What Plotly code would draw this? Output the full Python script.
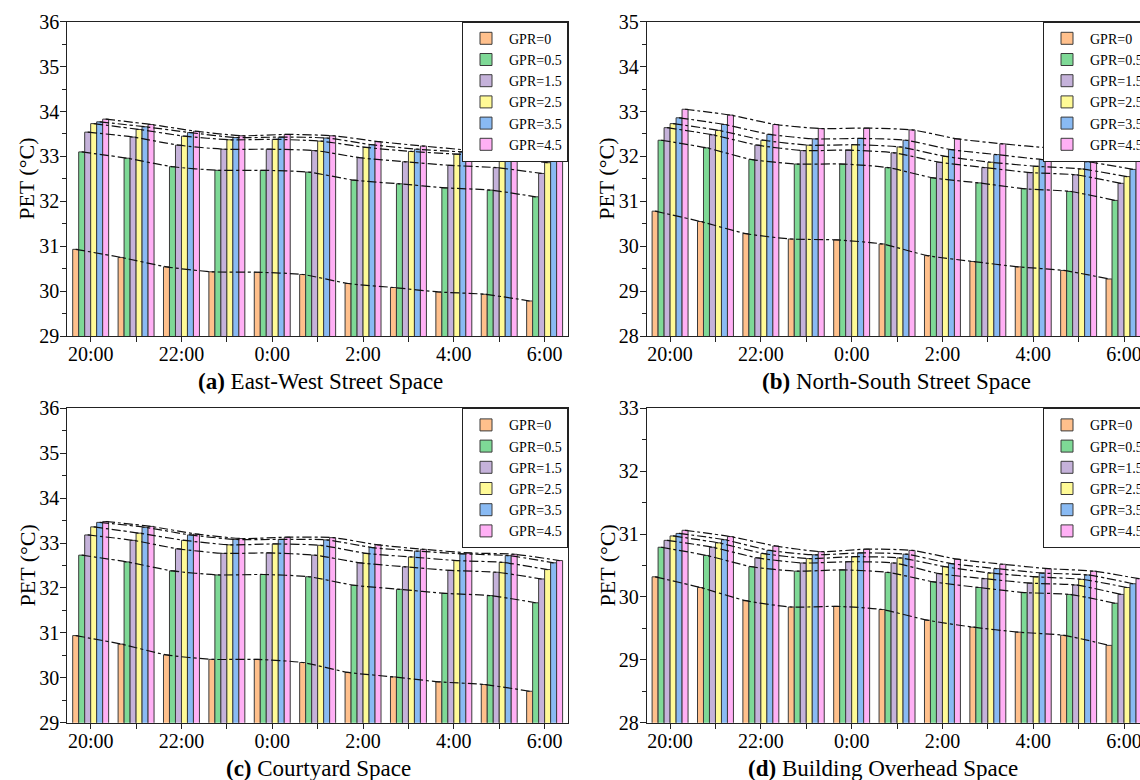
import plotly.graph_objects as go

# ---------------- data ----------------
times = ["20:00", "21:00", "22:00", "23:00", "0:00", "1:00", "2:00", "3:00", "4:00", "5:00", "6:00"]
tick_text = ["20:00", "", "22:00", "", "0:00", "", "2:00", "", "4:00", "", "6:00"]
series_names = ["GPR=0", "GPR=0.5", "GPR=1.5", "GPR=2.5", "GPR=3.5", "GPR=4.5"]

ew_gpr0 = [30.93, 30.75, 30.54, 30.43, 30.42, 30.37, 30.17, 30.08, 29.98, 29.93, 29.78]
ew_gpr05 = [33.10, 32.96, 32.77, 32.69, 32.69, 32.65, 32.47, 32.39, 32.30, 32.25, 32.10]
ew_gpr15 = [33.54, 33.43, 33.25, 33.16, 33.16, 33.13, 32.97, 32.88, 32.80, 32.75, 32.62]
ew_gpr25 = [33.73, 33.60, 33.45, 33.37, 33.38, 33.34, 33.20, 33.11, 33.05, 32.99, 32.86]
ew_gpr35 = [33.77, 33.66, 33.53, 33.42, 33.43, 33.41, 33.26, 33.16, 33.10, 33.05, 32.92]
ew_gpr45 = [33.83, 33.71, 33.56, 33.46, 33.49, 33.46, 33.33, 33.23, 33.14, 33.10, 32.99]

ns_gpr0 = [30.78, 30.55, 30.28, 30.16, 30.14, 30.05, 29.79, 29.66, 29.54, 29.46, 29.27]
ns_gpr05 = [32.36, 32.19, 31.93, 31.83, 31.83, 31.75, 31.52, 31.41, 31.28, 31.22, 31.02]
ns_gpr15 = [32.64, 32.48, 32.25, 32.13, 32.14, 32.08, 31.87, 31.75, 31.64, 31.59, 31.40]
ns_gpr25 = [32.73, 32.58, 32.36, 32.25, 32.26, 32.21, 32.00, 31.87, 31.78, 31.72, 31.55]
ns_gpr35 = [32.86, 32.71, 32.49, 32.39, 32.40, 32.36, 32.15, 32.04, 31.93, 31.88, 31.71]
ns_gpr45 = [33.05, 32.92, 32.71, 32.62, 32.63, 32.59, 32.39, 32.28, 32.19, 32.15, 31.98]

cy_gpr0 = [30.94, 30.75, 30.51, 30.41, 30.41, 30.34, 30.12, 30.02, 29.91, 29.85, 29.70]
cy_gpr05 = [32.73, 32.58, 32.38, 32.29, 32.30, 32.25, 32.06, 31.97, 31.88, 31.83, 31.67]
cy_gpr15 = [33.18, 33.06, 32.87, 32.77, 32.78, 32.73, 32.56, 32.47, 32.39, 32.35, 32.20]
cy_gpr25 = [33.36, 33.22, 33.06, 32.96, 32.98, 32.95, 32.77, 32.69, 32.61, 32.57, 32.41]
cy_gpr35 = [33.46, 33.35, 33.18, 33.08, 33.08, 33.07, 32.90, 32.82, 32.76, 32.72, 32.56]
cy_gpr45 = [33.48, 33.37, 33.20, 33.10, 33.13, 33.12, 32.96, 32.86, 32.78, 32.75, 32.61]

bo_gpr0 = [30.32, 30.15, 29.94, 29.84, 29.85, 29.80, 29.63, 29.52, 29.44, 29.39, 29.23]
bo_gpr05 = [30.79, 30.66, 30.48, 30.41, 30.43, 30.39, 30.24, 30.15, 30.07, 30.04, 29.90]
bo_gpr15 = [30.90, 30.79, 30.62, 30.54, 30.56, 30.54, 30.37, 30.29, 30.22, 30.19, 30.04]
bo_gpr25 = [30.97, 30.86, 30.69, 30.61, 30.64, 30.62, 30.48, 30.38, 30.32, 30.28, 30.15]
bo_gpr35 = [31.01, 30.91, 30.74, 30.67, 30.70, 30.68, 30.53, 30.45, 30.38, 30.35, 30.21]
bo_gpr45 = [31.06, 30.96, 30.81, 30.72, 30.76, 30.74, 30.60, 30.52, 30.45, 30.41, 30.29]

panel_titles = ["<b>(a)</b> East-West Street Space", "<b>(b)</b> North-South Street Space",
                "<b>(c)</b> Courtyard Space", "<b>(d)</b> Building Overhead Space"]
y_title = "PET (°C)"

# ---------------- styling ----------------
W, H = 1140, 780
FONT = "Liberation Serif"
colors = ["#FFC08C", "#7ED996", "#C5B2DA", "#FFFA96", "#89BAF3", "#FFB0F5"]
BW = 0.132  # bar width in category units

panels = [
    [ew_gpr0, ew_gpr05, ew_gpr15, ew_gpr25, ew_gpr35, ew_gpr45],
    [ns_gpr0, ns_gpr05, ns_gpr15, ns_gpr25, ns_gpr35, ns_gpr45],
    [cy_gpr0, cy_gpr05, cy_gpr15, cy_gpr25, cy_gpr35, cy_gpr45],
    [bo_gpr0, bo_gpr05, bo_gpr15, bo_gpr25, bo_gpr35, bo_gpr45],
]
yranges = [[29, 36], [28, 35], [29, 36], [28, 33]]
left_px = [67.3, 646.7, 67.3, 646.7]
right_px = [568, 1140, 568, 1140]
top_px = [21.7, 21.7, 408.3, 408.3]
bot_px = [336.0, 336.0, 722.7, 722.7]
px_per_unit = (568 - 67.3) / 11.03
xr0 = -0.515

idx = list(range(len(times)))
fig = go.Figure()

for p, data in enumerate(panels):
    sfx = "" if p == 0 else str(p + 1)
    leg = "legend" + sfx
    for i, vals in enumerate(data):
        fig.add_trace(go.Bar(
            x=idx, y=vals, name=series_names[i], width=BW, offset=(i - 3) * BW,
            marker=dict(color=colors[i], line=dict(color="#3a3a3a", width=1)),
            xaxis="x" + sfx, yaxis="y" + sfx, legend=leg, showlegend=True,
            hoverinfo="skip"))
    for i, vals in enumerate(data):
        fig.add_trace(go.Scatter(
            x=[k + (i - 2.5) * BW for k in idx], y=vals, mode="lines",
            line=dict(color="#111", width=1.2, dash="dashdot", shape="spline", smoothing=0.6),
            xaxis="x" + sfx, yaxis="y" + sfx, showlegend=False, hoverinfo="skip"))

layout = dict(
    width=W, height=H, margin=dict(l=0, r=0, t=0, b=0, autoexpand=False),
    paper_bgcolor="white", plot_bgcolor="white", barmode="overlay",
    font=dict(family=FONT, color="black", size=20),
    annotations=[],
)

title_pos = [(320, 381), (896, 381), (318, 768), (883, 768)]
ytitle_x = [27, 607, 27, 607]
for p in range(4):
    sfx = "" if p == 0 else str(p + 1)
    xd = [left_px[p] / W, right_px[p] / W]
    yd = [1 - bot_px[p] / H, 1 - top_px[p] / H]
    xr1 = xr0 + (right_px[p] - left_px[p]) / px_per_unit
    layout["xaxis" + sfx] = dict(
        domain=xd, anchor="y" + sfx, range=[xr0, xr1],
        tickmode="array", tickvals=idx, ticktext=tick_text, ticklabeloverflow="allow",
        ticks="outside", ticklen=5, tickwidth=1, tickcolor="#222", ticklabelstandoff=-5,
        showline=True, linecolor="#222", linewidth=1, mirror=True,
        showgrid=False, zeroline=False, tickfont=dict(size=20, family=FONT))
    layout["yaxis" + sfx] = dict(
        domain=yd, anchor="x" + sfx, range=yranges[p], dtick=1,
        ticks="outside", ticklen=6, tickwidth=1, tickcolor="#222", ticklabelstandoff=-3,
        minor=dict(dtick=0.5, ticks="outside", ticklen=4, tickcolor="#222"),
        showline=True, linecolor="#222", linewidth=1, mirror=(p % 2 == 0),
        showgrid=False, zeroline=False, tickfont=dict(size=20, family=FONT))
    legend_cfg = dict(
        y=yd[1], yanchor="top", bgcolor="white", bordercolor="#222", borderwidth=1,
        font=dict(size=14, family=FONT), traceorder="normal", itemwidth=36)
    if p % 2 == 0:
        legend_cfg.update(x=xd[1], xanchor="right")
    else:
        legend_cfg.update(x=1043 / W, xanchor="left")
    layout["legend" + sfx] = legend_cfg
    layout["annotations"].append(dict(
        text=panel_titles[p], x=title_pos[p][0] / W, y=1 - title_pos[p][1] / H,
        xref="paper", yref="paper", showarrow=False, xanchor="center", yanchor="middle",
        font=dict(size=23, family=FONT)))
    layout["annotations"].append(dict(
        text=y_title, x=ytitle_x[p] / W, y=(yd[0] + yd[1]) / 2, textangle=-90,
        xref="paper", yref="paper", showarrow=False, xanchor="center", yanchor="middle",
        font=dict(size=22, family=FONT)))

fig.update_layout(layout)
fig.write_html(
    "out.html", config={"displayModeBar": False},
    post_script="document.body.style.margin='0';document.body.style.overflow='hidden';")
